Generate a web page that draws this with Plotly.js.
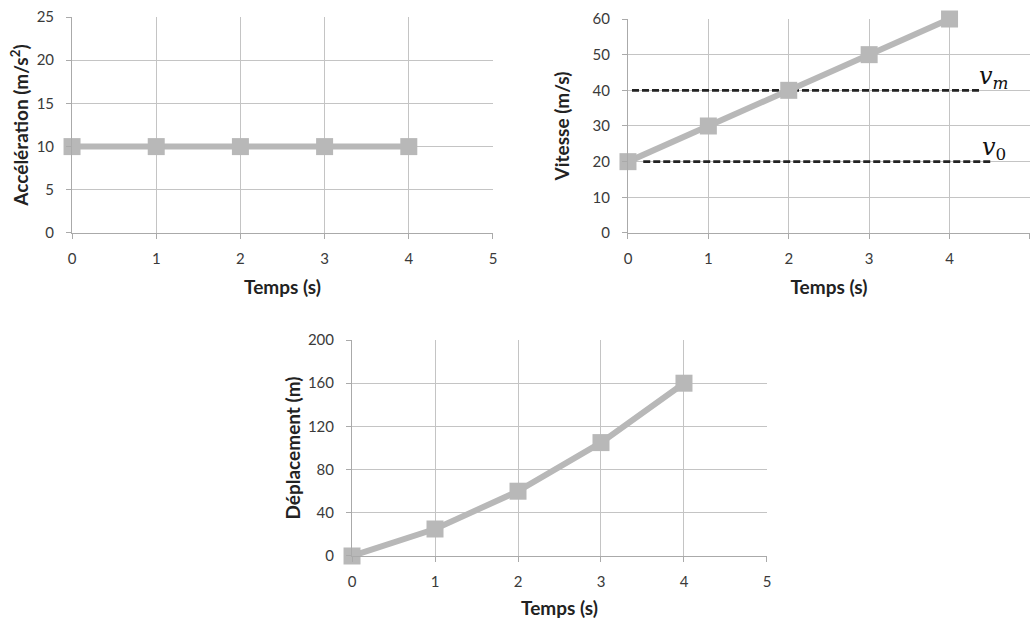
<!DOCTYPE html>
<html><head><meta charset="utf-8">
<script src="https://cdn.plot.ly/plotly-3.0.1.min.js"></script>
<style>html,body{margin:0;padding:0;background:#fff}#c{width:1032px;height:619px}</style>
</head><body><div id="c"></div>
<script>
// Data
const temps = [0, 1, 2, 3, 4];
const acceleration = [10, 10, 10, 10, 10];
const vitesse = [20, 30, 40, 50, 60];
const deplacement = [0, 25, 60, 105, 160];
const vmLineX = [0.05, 4.37], vmLineY = [40, 40];
const v0LineX = [0.19, 4.52], v0LineY = [20, 20];
const xTicks = [0, 1, 2, 3, 4, 5];
const accTicks = [0, 5, 10, 15, 20, 25];
const vitTicks = [0, 10, 20, 30, 40, 50, 60];
const depTicks = [0, 40, 80, 120, 160, 200];

const gray = '#b8b8b8';
const gridc = '#c4c4c4';
const tickFont = {family: 'Lato, sans-serif', size: 15, color: '#3a3a3a'};
const titleFont = {family: 'Lato, sans-serif', size: 19, color: '#222', weight: 'bold'};

function series(x, y, xa, ya) {
  return {x: x, y: y, xaxis: xa, yaxis: ya, type: 'scatter', mode: 'lines+markers',
    line: {color: gray, width: 6}, marker: {symbol: 'square', size: 17, color: gray},
    cliponaxis: false, showlegend: false, hoverinfo: 'skip'};
}
function dashed(x, y) {
  return {x: x, y: y, xaxis: 'x2', yaxis: 'y2', type: 'scatter', mode: 'lines',
    line: {color: '#222', width: 2.8, dash: '7px,3px'}, showlegend: false, hoverinfo: 'skip'};
}
function xax(domain, anchor) {
  return {domain: domain, anchor: anchor, range: [0, 5], tickvals: xTicks, ticktext: xTicks.map(String),
    showgrid: true, gridcolor: gridc, gridwidth: 1, zeroline: false,
    showline: true, linecolor: '#aaa', linewidth: 1, ticks: 'outside', ticklen: 5, tickcolor: '#aaa',
    tickfont: tickFont, ticklabelstandoff: 7,
    title: {text: 'Temps (s)', font: titleFont, standoff: 14}, fixedrange: true};
}
function yax(domain, anchor, range, ticks, title, standoff) {
  return {domain: domain, anchor: anchor, range: range, tickvals: ticks, ticktext: ticks.map(String),
    showgrid: true, gridcolor: gridc, gridwidth: 1, zeroline: false,
    showline: true, linecolor: '#aaa', linewidth: 1, ticks: 'outside', ticklen: 5, tickcolor: '#aaa',
    tickfont: tickFont, ticklabelstandoff: 9,
    title: {text: title, font: titleFont, standoff: standoff}, fixedrange: true};
}

const data = [
  series(temps, acceleration, 'x', 'y'),
  dashed(vmLineX, vmLineY),
  dashed(v0LineX, v0LineY),
  series(temps, vitesse, 'x2', 'y2'),
  series(temps, deplacement, 'x3', 'y3')
];

const layout = {
  width: 1032, height: 619, margin: {l: 0, r: 0, t: 0, b: 0},
  paper_bgcolor: '#fff', plot_bgcolor: '#fff', showlegend: false,
  xaxis: xax([0.0698, 0.4777], 'y'),
  yaxis: yax([0.6236, 0.9725], 'x', [0, 25], accTicks, 'Accélération (m/s<sup>2</sup>)', 2),
  xaxis2: xax([0.6085, 0.998], 'y2'),
  yaxis2: yax([0.6236, 0.9693], 'x2', [0, 60], vitTicks, 'Vitesse (m/s)', 17),
  xaxis3: xax([0.3411, 0.7432], 'y3'),
  yaxis3: yax([0.1018, 0.4507], 'x3', [0, 200], depTicks, 'Déplacement (m)', 2),
  annotations: [
    {xref: 'x2', yref: 'y2', x: 4.55, y: 43.5, text: '<i>v</i><sub><i>m</i></sub>', showarrow: false,
     font: {family: 'DejaVu Serif, serif', size: 24, color: '#111'}},
    {xref: 'x2', yref: 'y2', x: 4.55, y: 23.8, text: '<i>v</i><sub>0</sub>', showarrow: false,
     font: {family: 'DejaVu Serif, serif', size: 24, color: '#111'}}
  ]
};

Plotly.newPlot('c', data, layout, {staticPlot: true, displayModeBar: false});
</script>
</body></html>
